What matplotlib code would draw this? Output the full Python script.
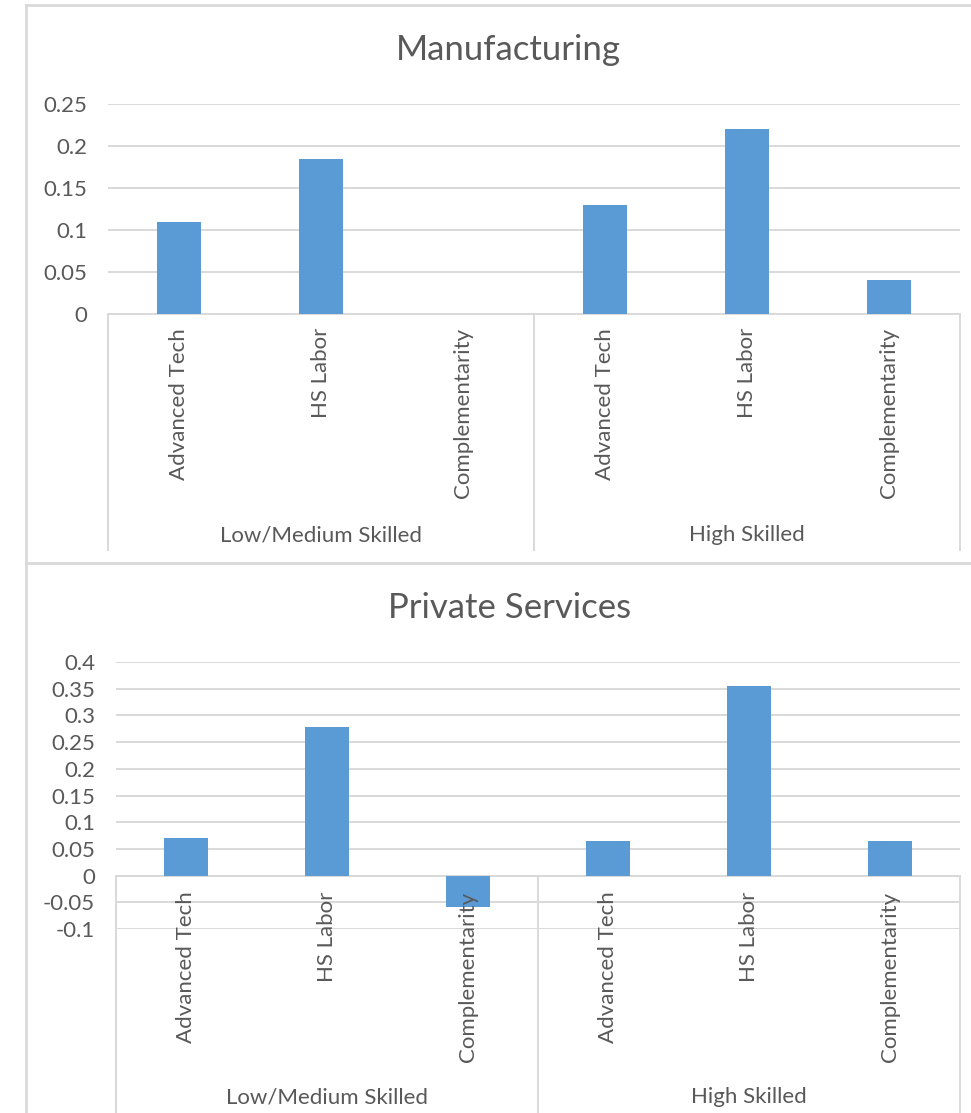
import matplotlib
matplotlib.use("Agg")
import matplotlib.pyplot as plt
import matplotlib.transforms as mtransforms
from matplotlib.lines import Line2D
import numpy as np

plt.rcParams["font.family"] = ["Lato", "DejaVu Sans"]

# data
categories = ["Advanced Tech", "HS Labor", "Complementarity"] * 2
groups = ["Low/Medium Skilled", "High Skilled"]
manufacturing = [0.11, 0.185, 0.0, 0.13, 0.22, 0.04]
private_services = [0.07, 0.278, -0.058, 0.064, 0.355, 0.064]

manuf_ticks = [0, 0.05, 0.1, 0.15, 0.2, 0.25]
serv_ticks = [-0.1, -0.05, 0, 0.05, 0.1, 0.15, 0.2, 0.25, 0.3, 0.35, 0.4]

BAR = "#5B9BD5"
GRID = "#D9D9D9"
TEXT = "#595959"
FS = 16

W, H = 971, 1113
fig = plt.figure(figsize=(W / 100, H / 100), dpi=100)


def px_rect(left, top, right, bottom):
    return [left / W, 1 - bottom / H, (right - left) / W, (bottom - top) / H]


def excel_panel(rect, title, title_xy, values, ticks, label_gap, group_bottom, group_label_y):
    ax = fig.add_axes(rect)
    x = np.arange(len(values))
    ax.bar(x, values, width=0.315, color=BAR, zorder=3)
    ax.set_xlim(-0.5, len(values) - 0.5)
    ax.set_ylim(ticks[0], ticks[-1])
    ax.set_yticks(ticks)
    ax.set_yticklabels([f"{t:g}" for t in ticks])
    ax.set_xticks([])
    ax.tick_params(axis="y", length=0, pad=15, labelsize=FS, labelcolor=TEXT)
    ax.grid(axis="y", color=GRID, linewidth=1.4, zorder=0)
    for s in ax.spines.values():
        s.set_visible(False)
    ax.axhline(0, color=GRID, linewidth=1.4, zorder=2, clip_on=False)

    # category labels hang just under the zero line
    lab_tr = mtransforms.offset_copy(ax.transData, fig=fig, y=-label_gap, units="dots")
    for xi, name in zip(x, categories):
        ax.text(xi, 0, name, rotation=90, ha="center", va="top",
                fontsize=FS, color=TEXT, transform=lab_tr)

    # group separators and group names
    fig.canvas.draw()
    zero_fig = fig.transFigure.inverted().transform(ax.transData.transform((0, 0)))[1]
    blend = mtransforms.blended_transform_factory(ax.transData, fig.transFigure)
    for xs in [-0.5, 2.5, 5.5]:
        ax.add_line(Line2D([xs, xs], [zero_fig, 1 - group_bottom / H], color=GRID,
                           linewidth=1.4, transform=blend, clip_on=False))
    for gi, g in enumerate(groups):
        ax.text(1 + 3 * gi, 1 - group_label_y / H, g, ha="center", va="center",
                fontsize=FS, color=TEXT, transform=blend)

    fig.text(title_xy[0] / W, 1 - title_xy[1] / H, title, ha="center", va="center",
             fontsize=25, color=TEXT)
    return ax


excel_panel(px_rect(108, 104, 960, 314), "Manufacturing", (508, 50),
            manufacturing, manuf_ticks, 14, 550, 535)
excel_panel(px_rect(116, 662, 960, 929), "Private Services", (510, 608),
            private_services, serv_ticks, 16, 1113, 1097)

# chart frames
for xs, ys in [([26, W], [5, 5]), ([26, 26], [5, H]), ([26, W], [563, 563])]:
    fig.add_artist(Line2D([v / W for v in xs], [1 - v / H for v in ys],
                          color=GRID, linewidth=2))

fig.savefig("out.png", dpi=100)
